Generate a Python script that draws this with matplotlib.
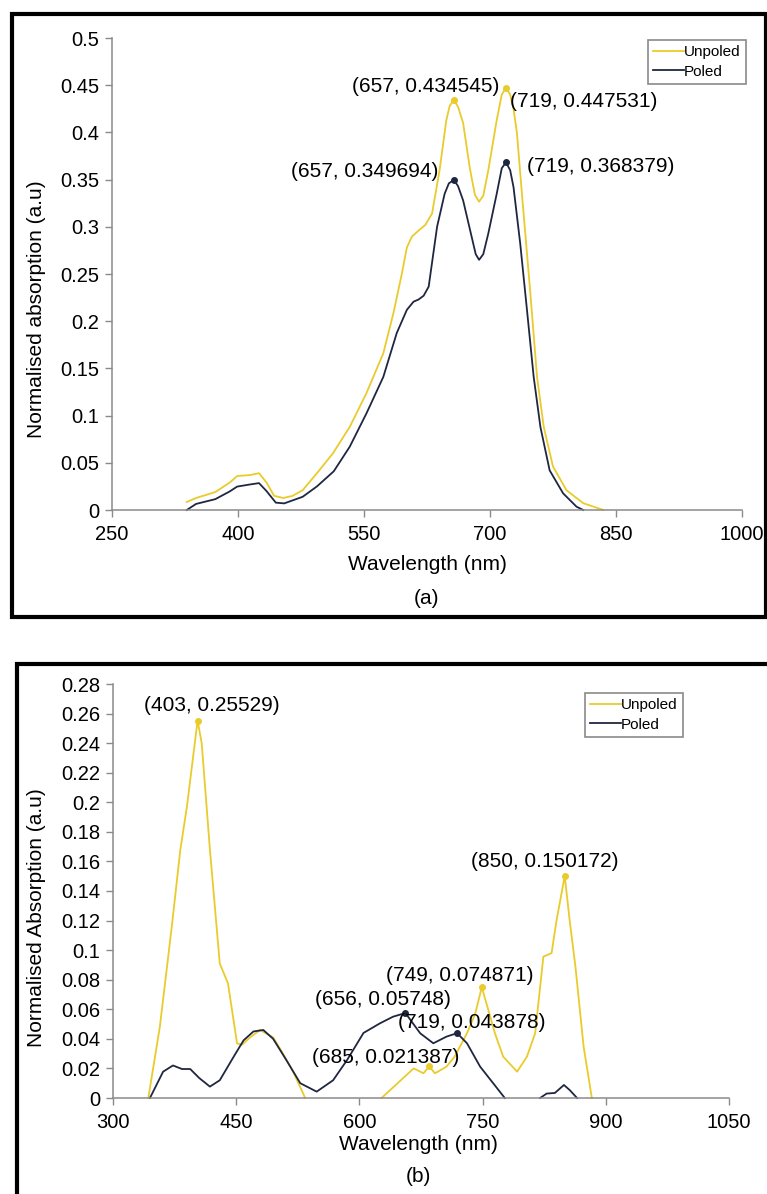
import matplotlib
matplotlib.use("Agg")

import matplotlib.pyplot as plt
from matplotlib.patches import Rectangle


# ==========================================================
# DATOS
# ==========================================================

# ---- (a) ----
wl_a_unpoled = [339, 350, 373, 390, 399, 414, 425, 434, 443, 454, 465, 477,
                494, 513, 533, 553, 573, 585, 595, 601, 607, 615, 623, 631,
                640, 648, 652, 657, 662, 668, 676, 682, 687, 692, 698, 708,
                714, 719, 724, 728, 732, 738, 748, 756, 764, 775, 791, 811,
                835]
abs_a_unpoled = [0.0085, 0.0127, 0.019, 0.029, 0.036, 0.037, 0.039, 0.029,
                 0.015, 0.0127, 0.015, 0.021, 0.039, 0.060, 0.088, 0.124,
                 0.166, 0.2085, 0.250, 0.278, 0.2896, 0.296, 0.302, 0.314,
                 0.360, 0.413, 0.428, 0.434545, 0.427, 0.410, 0.362, 0.334,
                 0.3266, 0.333, 0.360, 0.413, 0.440, 0.447531, 0.440, 0.425,
                 0.400, 0.335, 0.230, 0.141, 0.088, 0.046, 0.021, 0.0072, 0.0]

wl_a_poled = [339, 350, 373, 390, 399, 414, 425, 434, 445, 455, 477, 494,
              514, 533, 553, 573, 589, 601, 609, 615, 621, 627, 637, 646,
              651, 657, 662, 668, 678, 683, 687, 692, 698, 708, 714, 719,
              724, 728, 736, 744, 752, 760, 771, 787, 803, 811]
abs_a_poled = [0.0, 0.0064, 0.0115, 0.0196, 0.0248, 0.027, 0.0285, 0.020,
               0.0078, 0.007, 0.014, 0.025, 0.041, 0.067, 0.1025, 0.141,
               0.1875, 0.212, 0.2207, 0.223, 0.227, 0.2366, 0.300, 0.335,
               0.346, 0.349694, 0.343, 0.328, 0.290, 0.271, 0.265, 0.271,
               0.293, 0.335, 0.362, 0.368379, 0.360, 0.342, 0.282, 0.212,
               0.141, 0.088, 0.042, 0.0177, 0.0035, 0.0]

picos_a_unpoled = [(657, 0.434545), (719, 0.447531)]
picos_a_poled = [(657, 0.349694), (719, 0.368379)]

# ---- (b) ----  (None = tramo sin datos visibles)
wl_b_unpoled = [343, 357, 372, 382, 390, 403, 408, 418, 430, 440, 451, 457,
                467, 479, 495, 507, 520, 534, None,
                627, 666, 670, 678, 685, 692, 706, 716, 731, 741, 749, 757,
                765, 775, 792, 804, 814, 824, 834, 840, 850, 856, 863, 873,
                883]
abs_b_unpoled = [0.0, 0.048, 0.118, 0.168, 0.197, 0.25529, 0.24, 0.168,
                 0.091, 0.0775, 0.037, 0.036, 0.041, 0.046, 0.041, 0.030,
                 0.017, 0.0, None,
                 0.0, 0.020, 0.019, 0.0167, 0.021387, 0.0167, 0.0212, 0.028,
                 0.0438, 0.057, 0.074871, 0.0595, 0.0438, 0.028, 0.0178,
                 0.028, 0.0438, 0.0956, 0.098, 0.120, 0.150172, 0.120, 0.089,
                 0.0347, 0.0]

wl_b_poled = [345, 361, 373, 384, 394, 405, 418, 430, 447, 459, 471, 483,
              495, 511, 528, 548, 568, 585, 605, 625, 641, 656, 674, 690,
              706, 719, 731, 747, 763, 777, None,
              820, 828, 838, 849, 856, 865]
abs_b_poled = [0.0, 0.0178, 0.022, 0.0196, 0.0196, 0.0135, 0.0077, 0.012,
               0.028, 0.039, 0.045, 0.046, 0.040, 0.0257, 0.010, 0.0043,
               0.012, 0.0257, 0.044, 0.0505, 0.055, 0.05748, 0.0438, 0.037,
               0.0415, 0.043878, 0.037, 0.0212, 0.0099, 0.0, None,
               0.0, 0.003, 0.0034, 0.0088, 0.0054, 0.0]

picos_b_unpoled = [(403, 0.25529), (850, 0.150172), (749, 0.074871),
                   (685, 0.021387)]
picos_b_poled = [(656, 0.05748), (719, 0.043878)]

# etiquetas: texto, x, y (centro)
etiquetas_a = [("(657, 0.434545)", 623, 0.449),
               ("(719, 0.447531)", 811, 0.433),
               ("(657, 0.349694)", 551, 0.359),
               ("(719, 0.368379)", 832, 0.364)]
etiquetas_b = [("(403, 0.25529)", 420, 0.2653),
               ("(850, 0.150172)", 826, 0.160),
               ("(749, 0.074871)", 722, 0.0831),
               ("(656, 0.05748)", 629, 0.0668),
               ("(719, 0.043878)", 737, 0.0509),
               ("(685, 0.021387)", 632, 0.0274)]

xticks_a = [250, 400, 550, 700, 850, 1000]
yticks_a = [0, 0.05, 0.1, 0.15, 0.2, 0.25, 0.3, 0.35, 0.4, 0.45, 0.5]
xticks_b = [300, 450, 600, 750, 900, 1050]
yticks_b = [0, 0.02, 0.04, 0.06, 0.08, 0.1, 0.12, 0.14, 0.16, 0.18, 0.2,
            0.22, 0.24, 0.26, 0.28]


# ==========================================================
# ESTILO
# ==========================================================

plt.rcParams["font.family"] = ["Liberation Sans", "DejaVu Sans"]

AMARILLO = "#EACB2C"
AZUL = "#1F2740"
GRIS = "#8A8A8A"

W, H = 767, 1194


def limpiar(v):
    return [float("nan") if x is None else x for x in v]


def fmt(v):
    s = f"{v:.2f}".rstrip("0").rstrip(".")
    return s


def preparar_ejes(ax, xticks, yticks):

    for lado in ["top", "right"]:
        ax.spines[lado].set_visible(False)

    for lado in ["left", "bottom"]:
        ax.spines[lado].set_color(GRIS)
        ax.spines[lado].set_linewidth(1.1)

    ax.set_xlim(xticks[0], xticks[-1])
    ax.set_ylim(yticks[0], yticks[-1])

    ax.set_xticks(xticks)
    ax.set_yticks(yticks)
    ax.set_xticklabels([str(t) for t in xticks])
    ax.set_yticklabels([fmt(t) for t in yticks])

    ax.tick_params(direction="out", length=5, width=1, color=GRIS,
                   labelsize=14.5)
    ax.tick_params(axis="x", pad=6)
    ax.tick_params(axis="y", pad=4)


def dibujar(ax, x1, y1, x2, y2, p1, p2, etiquetas):

    ax.plot(limpiar(x1), limpiar(y1), color=AMARILLO, lw=1.3,
            label="Unpoled", clip_on=False)
    ax.plot(limpiar(x2), limpiar(y2), color=AZUL, lw=1.3,
            label="Poled", clip_on=False)

    ax.plot([p[0] for p in p1], [p[1] for p in p1], "o", color=AMARILLO,
            ms=4, clip_on=False)
    ax.plot([p[0] for p in p2], [p[1] for p in p2], "o", color=AZUL,
            ms=4, clip_on=False)

    for texto, x, y in etiquetas:
        ax.text(x, y, texto, ha="center", va="center", fontsize=15)


def leyenda(ax, ancla):

    leg = ax.legend(loc="upper right", bbox_to_anchor=ancla,
                    borderaxespad=0, fontsize=11, fancybox=False,
                    framealpha=1, edgecolor=GRIS, handlelength=2.0,
                    handletextpad=0.0, labelspacing=0.35, borderpad=0.35)
    leg.get_frame().set_linewidth(1.2)


# ==========================================================
# FIGURA
# ==========================================================

fig = plt.figure(figsize=(W / 100, H / 100), dpi=100)

# marcos negros de cada panel
fig.patches.append(Rectangle((12 / W, 1 - 617 / H), (766 - 12) / W,
                             (617 - 14) / H, transform=fig.transFigure,
                             fill=False, lw=3, ec="black"))
fig.patches.append(Rectangle((17 / W, -0.05), (790 - 17) / W,
                             (1194 - 664) / H + 0.05,
                             transform=fig.transFigure,
                             fill=False, lw=3, ec="black", clip_on=False))

# ---- panel (a) ----
ax1 = fig.add_axes([112 / W, 1 - 510 / H, 630 / W, 472 / H])
preparar_ejes(ax1, xticks_a, yticks_a)
dibujar(ax1, wl_a_unpoled, abs_a_unpoled, wl_a_poled, abs_a_poled,
        picos_a_unpoled, picos_a_poled, etiquetas_a)
leyenda(ax1, (1.006, 0.996))

fig.text(427 / W, 1 - 565 / H, "Wavelength (nm)", ha="center",
         va="center", fontsize=15)
fig.text(426 / W, 1 - 598 / H, "(a)", ha="center", va="center", fontsize=15)
fig.text(37 / W, 1 - 309 / H, "Normalised absorption (a.u)", ha="center",
         va="center", rotation=90, fontsize=15)

# ---- panel (b) ----
ax2 = fig.add_axes([113 / W, 1 - 1098 / H, 616 / W, 414 / H])
preparar_ejes(ax2, xticks_b, yticks_b)
dibujar(ax2, wl_b_unpoled, abs_b_unpoled, wl_b_poled, abs_b_poled,
        picos_b_unpoled, picos_b_poled, etiquetas_b)
leyenda(ax2, (0.925, 0.978))

fig.text(418 / W, 1 - 1144 / H, "Wavelength (nm)", ha="center",
         va="center", fontsize=15)
fig.text(418 / W, 1 - 1177 / H, "(b)", ha="center", va="center", fontsize=15)
fig.text(37 / W, 1 - 918 / H, "Normalised Absorption (a.u)", ha="center",
         va="center", rotation=90, fontsize=15)

fig.savefig("out.png", dpi=100)
